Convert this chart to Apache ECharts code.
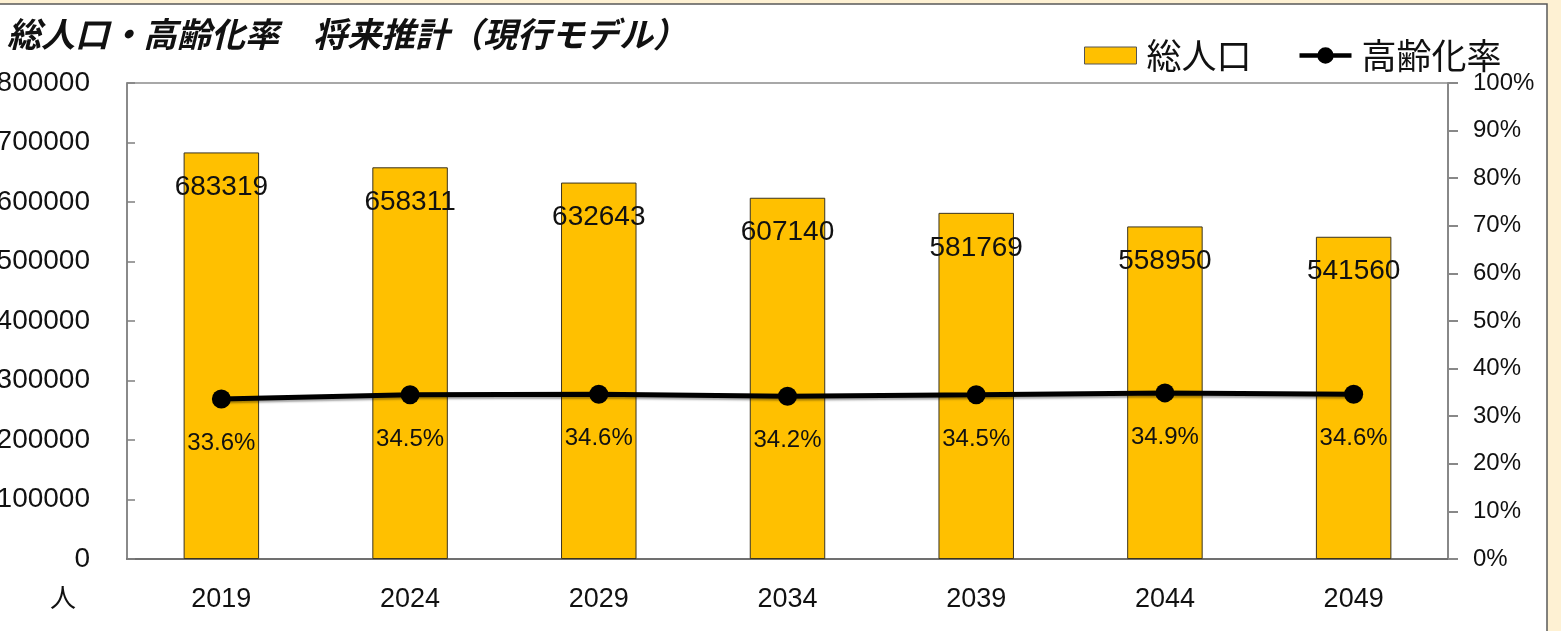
<!DOCTYPE html>
<html>
<head>
<meta charset="utf-8">
<script src="https://cdn.jsdelivr.net/npm/echarts@6/dist/echarts.min.js"></script>
<style>
  html, body { margin: 0; padding: 0; background: #FEF1D3; }
  #chart { width: 1561px; height: 631px; }
</style>
</head>
<body>
<div id="chart"></div>
<script>
// 年次（5年刻みの推計年）
const years = ['2019', '2024', '2029', '2034', '2039', '2044', '2049'];
// 総人口（人）
const population = [683319, 658311, 632643, 607140, 581769, 558950, 541560];
// 高齢化率（%）
const agingRate = [33.6, 34.5, 34.6, 34.2, 34.5, 34.9, 34.6];

const latin = "'Liberation Sans', 'Noto Sans CJK JP', sans-serif";
const jp = "'Noto Sans CJK JP', 'Liberation Sans', sans-serif";

// 凡例用：太線の中央に丸を置いたアイコン
const lineMarkerIcon = 'path://M0,7H57V12H0Z M19.5,9.5a9,9 0 1,1 18,0a9,9 0 1,1 -18,0Z';

const chart = echarts.init(document.getElementById('chart'), null, { renderer: 'canvas' });

chart.setOption({
  backgroundColor: '#FEF1D3',
  animation: false,
  graphic: [
    {
      type: 'rect',
      z: -10,
      shape: { x: -10, y: 4, width: 1557, height: 640 },
      style: { fill: '#ffffff', stroke: '#5a5a5a', lineWidth: 1.5 }
    },
    {
      type: 'text',
      left: 50,
      top: 584,
      style: { text: '人', font: '26px ' + jp, fill: '#111' }
    }
  ],
  title: {
    text: '総人口・高齢化率　将来推計（現行モデル）',
    left: 2,
    top: 12,
    textStyle: {
      fontFamily: jp,
      fontSize: 34,
      fontWeight: 'bold',
      fontStyle: 'italic',
      color: '#111'
    }
  },
  legend: {
    left: 1079,
    top: 33,
    itemWidth: 52,
    itemHeight: 17,
    itemGap: 48,
    textStyle: { fontFamily: jp, fontSize: 35, color: '#111', padding: [0, 0, 0, 5] },
    data: [
      { name: '総人口', icon: 'rect', itemStyle: { color: '#FFC000', borderColor: '#555', borderWidth: 1 } },
      { name: '高齢化率', icon: lineMarkerIcon, itemStyle: { color: '#000', borderWidth: 0 } }
    ]
  },
  grid: {
    left: 127, right: 113, top: 83, bottom: 72,
    outerBoundsMode: 'none',
    containLabel: false,
    show: true, borderColor: '#8c8c8c', borderWidth: 1.5
  },
  xAxis: {
    type: 'category',
    data: years,
    axisLine: { lineStyle: { color: '#707070', width: 2 } },
    axisTick: { show: false },
    axisLabel: { fontFamily: latin, fontSize: 27, color: '#111', margin: 27 }
  },
  yAxis: [
    {
      type: 'value',
      min: 0,
      max: 800000,
      interval: 100000,
      splitLine: { show: false },
      axisLine: { show: true, lineStyle: { color: '#808080', width: 1.5 } },
      axisTick: { show: true, inside: true, length: 8, lineStyle: { color: '#808080', width: 1.5 } },
      axisLabel: { fontFamily: latin, fontSize: 28, color: '#111', margin: 37, formatter: v => String(v) }
    },
    {
      type: 'value',
      min: 0,
      max: 100,
      interval: 10,
      splitLine: { show: false },
      axisLine: { show: true, lineStyle: { color: '#888888', width: 2 } },
      axisTick: { show: true, length: 10, lineStyle: { color: '#888888', width: 2 } },
      axisLabel: { fontFamily: latin, fontSize: 24, color: '#111', margin: 25, formatter: '{value}%' }
    }
  ],
  series: [
    {
      name: '総人口',
      type: 'bar',
      data: population,
      barWidth: '40%',
      itemStyle: { color: '#FFC000', borderColor: '#3a3320', borderWidth: 1 },
      label: {
        show: true,
        position: 'insideTop',
        distance: 21,
        fontFamily: latin,
        fontSize: 28,
        color: '#111'
      }
    },
    {
      name: '高齢化率',
      type: 'line',
      yAxisIndex: 1,
      data: agingRate,
      symbol: 'circle',
      symbolSize: 19,
      itemStyle: { color: '#000' },
      lineStyle: {
        color: '#000',
        width: 5,
        shadowColor: 'rgba(0,0,0,0.35)',
        shadowBlur: 2,
        shadowOffsetY: 2
      },
      label: {
        show: true,
        position: 'bottom',
        distance: 23,
        fontFamily: latin,
        fontSize: 24,
        color: '#111',
        formatter: p => p.value.toFixed(1) + '%'
      },
      z: 5
    }
  ]
});
</script>
</body>
</html>
